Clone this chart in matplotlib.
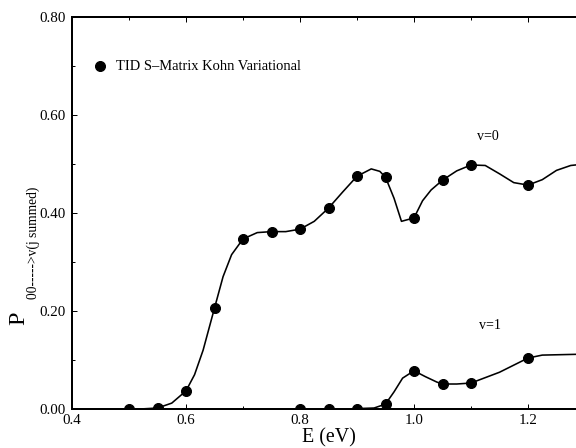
import matplotlib
matplotlib.use("Agg")
from matplotlib import pyplot as plt
from matplotlib.ticker import MultipleLocator, FixedLocator

plt.rcParams['font.family'] = ['Liberation Serif', 'DejaVu Serif']

# computed points (markers)
v0_e = [0.5, 0.55, 0.6, 0.65, 0.7, 0.75, 0.8, 0.85, 0.9, 0.95, 1.0, 1.05, 1.1, 1.2]
v0_p = [0.0, 0.003, 0.037, 0.206, 0.347, 0.361, 0.367, 0.41, 0.475, 0.473, 0.39, 0.467, 0.498, 0.457]

v1_e = [0.8, 0.85, 0.9, 0.95, 1.0, 1.05, 1.1, 1.2]
v1_p = [0.0, 0.0, 0.0, 0.01, 0.078, 0.051, 0.053, 0.104]

# fitted curves
v0_curve_e = [0.52, 0.55, 0.575, 0.6, 0.615, 0.63, 0.65, 0.665, 0.68, 0.7, 0.725, 0.75, 0.775, 0.8,
              0.825, 0.85, 0.875, 0.9, 0.925, 0.94, 0.95, 0.965, 0.978, 1.0, 1.015, 1.03, 1.05,
              1.075, 1.1, 1.125, 1.15, 1.175, 1.2, 1.225, 1.25, 1.275, 1.3]
v0_curve_p = [0.0, 0.002, 0.012, 0.037, 0.07, 0.12, 0.206, 0.27, 0.315, 0.347, 0.360, 0.362,
              0.362, 0.367, 0.383, 0.41, 0.443, 0.475, 0.49, 0.485, 0.473, 0.43, 0.383, 0.39,
              0.425, 0.447, 0.467, 0.486, 0.498, 0.497, 0.48, 0.462, 0.457, 0.468, 0.487,
              0.497, 0.50]

v1_curve_e = [0.88, 0.93, 0.95, 0.965, 0.98, 1.0, 1.02, 1.04, 1.05, 1.075, 1.1, 1.15, 1.2,
              1.225, 1.3]
v1_curve_p = [0.0, 0.002, 0.01, 0.035, 0.063, 0.078, 0.066, 0.055, 0.051, 0.051, 0.053, 0.075,
              0.104, 0.11, 0.112]

fig = plt.figure(figsize=(8, 448 / 72), dpi=72)
# axes runs past the right edge, like the cropped original
ax = fig.add_axes([72 / 576, 39 / 448, 570 / 576, 392 / 448])

ax.plot(v0_curve_e, v0_curve_p, color='black', lw=1.6)
ax.plot(v1_curve_e, v1_curve_p, color='black', lw=1.6)
ax.plot(v0_e, v0_p, 'o', color='black', ms=10)
ax.plot(v1_e, v1_p, 'o', color='black', ms=10)

ax.set_xlim(0.4, 1.4)
ax.set_ylim(0.0, 0.8)
ax.xaxis.set_major_locator(FixedLocator([0.4, 0.6, 0.8, 1.0, 1.2]))
ax.xaxis.set_minor_locator(FixedLocator([0.5, 0.7, 0.9, 1.1]))
ax.yaxis.set_major_locator(MultipleLocator(0.2))
ax.yaxis.set_minor_locator(MultipleLocator(0.1))
ax.xaxis.set_major_formatter(plt.FuncFormatter(lambda v, p: f"{v:.1f}"))
ax.yaxis.set_major_formatter(plt.FuncFormatter(lambda v, p: f"{v:.2f}"))
ax.tick_params(which='both', direction='in', top=True, labelsize=15)
ax.tick_params(which='major', length=5, width=1)
ax.tick_params(which='minor', length=3, width=1)
ax.tick_params(axis='y', pad=6)
ax.tick_params(axis='x', pad=5)
for s in ax.spines.values():
    s.set_linewidth(2)

ax.set_xlabel('E (eV)', fontsize=20)
ax.xaxis.set_label_coords(0.451, -0.048)

fig.text(19 / 576, 1 - 318 / 448, 'P', fontsize=24, rotation=90, ha='center', va='center')
fig.text(33 / 576, 1 - 243 / 448, '00----->v(j summed)', fontsize=13.5, rotation=90,
         ha='center', va='center')

ax.plot([0.449], [0.70], 'o', color='black', ms=10)
ax.text(0.477, 0.70, 'TID S\u2013Matrix Kohn Variational', fontsize=14.5, va='center')

ax.text(1.11, 0.548, 'v=0', fontsize=14)
ax.text(1.114, 0.163, 'v=1', fontsize=14)

fig.savefig('out.png', dpi=72)
